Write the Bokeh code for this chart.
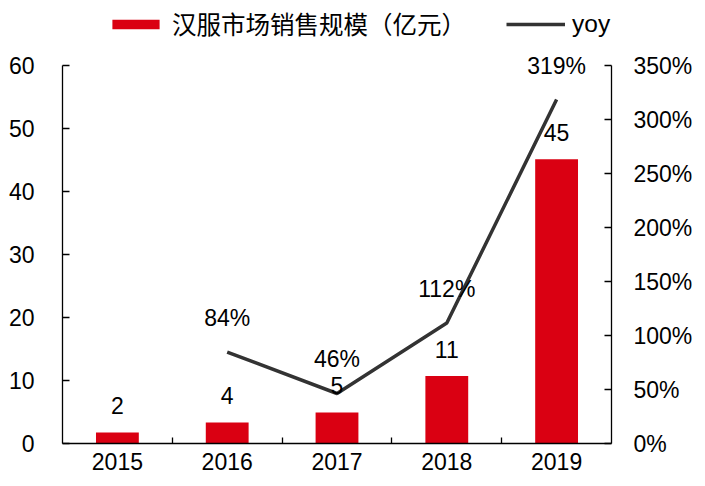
from bokeh.plotting import figure
from bokeh.models import (ColumnDataSource, Range1d, LinearAxis, FixedTicker,
                          Legend, LegendItem)
from bokeh.core.properties import value
from bokeh.embed import file_html
from bokeh.resources import INLINE

years = ["2015", "2016", "2017", "2018", "2019"]
sales = [1.75, 3.33, 4.92, 10.7, 45.1]
sales_labels = ["2", "4", "5", "11", "45"]
yoy_years = ["2016", "2017", "2018", "2019"]
yoy = [84.7, 46.3, 111.5, 318.5]
yoy_labels = ["84%", "46%", "112%", "319%"]
left_ticks = [0, 10, 20, 30, 40, 50, 60]
right_ticks = [0, 50, 100, 150, 200, 250, 300, 350]

FONT = "'Liberation Sans', Arial, sans-serif"
CJK = "'Liberation Sans', 'Noto Sans CJK SC', sans-serif"
RED = "#DA0012"
LINE = "#333333"
FS = "23px"

# frame spans from the page top to the x axis; the axes themselves stop at 60 / 350%
W, H = 705, 486
LEFT, RIGHT, BOTTOM = 62, 94, 43
AXIS_TOP = 65
frame_h = H - BOTTOM
left_max, right_max = left_ticks[-1], right_ticks[-1]
y_end = left_max * frame_h / (frame_h - AXIS_TOP)
r_end = right_max * frame_h / (frame_h - AXIS_TOP)

xs = [i + 0.5 for i in range(len(years))]
yoy_xs = [years.index(y) + 0.5 for y in yoy_years]

bar_src = ColumnDataSource(dict(x=xs, top=sales, label=sales_labels))
line_src = ColumnDataSource(dict(x=yoy_xs, y=yoy, label=yoy_labels))

p = figure(width=W, height=H, output_backend="svg", toolbar_location=None,
           x_range=Range1d(0, len(years)), y_range=Range1d(0, y_end),
           min_border_left=LEFT, min_border_right=RIGHT, min_border_top=0,
           min_border_bottom=BOTTOM)
p.extra_y_ranges = {"pct": Range1d(0, r_end)}
p.outline_line_color = None
p.xgrid.visible = False
p.ygrid.visible = False
p.background_fill_color = "white"
p.border_fill_color = "white"

bars = p.vbar(x="x", top="top", width=0.39, source=bar_src, fill_color=RED,
              line_color=None)
line = p.line(x="x", y="y", source=line_src, y_range_name="pct",
              line_color=LINE, line_width=3.5)

p.text(x="x", y="top", text="label", source=bar_src, y_offset=-27,
       text_align="center", text_baseline="middle",
       text_font=value(FONT), text_font_size=FS, text_color="black")
p.text(x="x", y="y", text="label", source=line_src, y_range_name="pct",
       y_offset=-34, text_align="center", text_baseline="middle",
       text_font=value(FONT), text_font_size=FS, text_color="black")

# x axis
xa = p.xaxis[0]
xa.ticker = FixedTicker(ticks=xs, minor_ticks=[i for i in range(1, len(years))])
xa.major_label_overrides = {x: y for x, y in zip(xs, years)}
xa.major_tick_in = 0
xa.major_tick_out = 0
xa.minor_tick_in = 6
xa.minor_tick_out = 0
xa.minor_tick_line_color = "black"
xa.minor_tick_line_width = 1.3
xa.axis_line_color = "black"
xa.axis_line_width = 1.3
xa.major_label_text_font = FONT
xa.major_label_text_font_size = FS
xa.major_label_text_color = "black"
xa.major_label_standoff = 9

# left axis
ya = p.yaxis[0]
ya.ticker = FixedTicker(ticks=left_ticks)
ya.bounds = (0, left_max)
ya.minor_tick_line_color = None
ya.major_tick_in = 7
ya.major_tick_out = 0
ya.major_tick_line_color = "black"
ya.major_tick_line_width = 1.3
ya.axis_line_color = "black"
ya.axis_line_width = 1.3
ya.major_label_text_font = FONT
ya.major_label_text_font_size = FS
ya.major_label_text_color = "black"
ya.major_label_standoff = 28

# right axis
ra = LinearAxis(y_range_name="pct", ticker=FixedTicker(ticks=right_ticks),
                bounds=(0, right_max))
ra.major_label_overrides = {t: f"{t}%" for t in right_ticks}
ra.minor_tick_line_color = None
ra.major_tick_in = 7
ra.major_tick_out = 0
ra.major_tick_line_color = "black"
ra.major_tick_line_width = 1.3
ra.axis_line_color = "black"
ra.axis_line_width = 1.3
ra.major_label_text_font = FONT
ra.major_label_text_font_size = FS
ra.major_label_text_color = "black"
ra.major_label_standoff = 22
p.add_layout(ra, "right")

legend = Legend(items=[LegendItem(label="汉服市场销售规模（亿元）", renderers=[bars]),
                       LegendItem(label="yoy", renderers=[line])],
                orientation="horizontal", location=(44, frame_h - 41),
                glyph_width=59, glyph_height=12, label_standoff=7, spacing=40,
                padding=0, margin=0, border_line_color=None,
                background_fill_alpha=0,
                label_text_font=CJK, label_text_font_size="24.5px",
                label_text_color="black")
p.add_layout(legend, "center")

open("out.html", "w").write(file_html(p, INLINE))
